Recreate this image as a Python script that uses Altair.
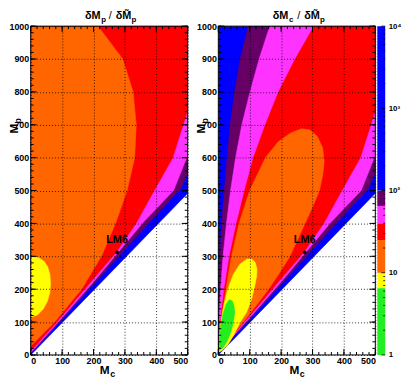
import altair as alt
import pandas as pd

# ---------------- axis ticks ----------------
MC_MAJOR = [0, 100, 200, 300, 400, 500]
MP_MAJOR = [0, 100, 200, 300, 400, 500, 600, 700, 800, 900, 1000]
MC_MINOR = list(range(0, 501, 20))
MP_MINOR = list(range(0, 1001, 20))

# ---------------- colour bar ----------------
LEVELS = [1, 6.5, 10, 25, 40, 65, 100, 10000]
GREEN, YELLOW, ORANGE, RED = "#22ee22", "#ffff00", "#ff6600", "#ff0000"
MAGENTA, PURPLE, BLUE = "#ff33ff", "#660066", "#0000ff"
BAND_COLORS = [GREEN, YELLOW, ORANGE, RED, MAGENTA, PURPLE, BLUE]
CB_LABEL_VALUES = [1, 10, 100, 1000, 10000]
CB_MINOR = [m * 10 ** k for k in range(4) for m in range(2, 10)]

# ---------------- contour boundaries (Mc, Mp) ----------------
# kinematic edge (below: white)
EDGE_MC = [0, 500]
EDGE_MP = [0, 492]
# bands hugging the diagonal (same in both panels)
BLUE_TOP_MC = [0, 100, 200, 285, 380, 477, 500]
BLUE_TOP_MP = [4, 109, 215, 305, 405, 505, 555]
PURPLE_TOP_MC = [0, 100, 200, 275, 360, 455, 500]
PURPLE_TOP_MP = [7, 113, 222, 308, 405, 500, 607]
MAGENTA_TOP_MC = [0, 90, 180, 272, 335, 393, 452, 500]
MAGENTA_TOP_MP = [12, 108, 210, 312, 400, 500, 600, 745]

# left panel: dMp / dMp~
L_ORANGE_MC = [0, 76, 162, 225, 270, 307, 331, 336, 326, 293, 214, 0]
L_ORANGE_MP = [27, 100, 200, 300, 400, 500, 600, 700, 800, 900, 1000, 1000]
L_YELLOW_MC = [0, 22, 40, 53, 61, 63, 61, 54, 42, 25, 0]
L_YELLOW_MP = [115, 122, 140, 163, 190, 218, 245, 268, 285, 296, 300]

# right panel: dMc / dMp~  (bands along the Mc = 0 edge)
R_BLUE_L_MC = [0, 1, 5, 11, 19, 28, 38, 52, 70, 96]
R_BLUE_L_MP = [170, 200, 300, 400, 500, 600, 700, 800, 900, 1000]
R_PURPLE_L_MC = [0, 2, 7, 15, 26, 39, 55, 75, 101, 130, 164]
R_PURPLE_L_MP = [60, 100, 200, 300, 400, 500, 600, 700, 800, 900, 1000]
R_MAGENTA_L_MC = [0, 7, 19, 36, 58, 84, 112, 150, 192, 245, 305]
R_MAGENTA_L_MP = [30, 100, 200, 300, 400, 500, 600, 700, 800, 900, 1000]
R_ORANGE_MC = [0, 3, 10, 24, 42, 66, 100, 150, 190, 230, 265, 292, 315, 332, 337,
               333, 322, 300, 276, 252, 228, 195, 160, 120, 80, 40, 0]
R_ORANGE_MP = [8, 50, 100, 200, 300, 400, 500, 600, 648, 675, 688, 684, 665, 630, 590,
               550, 500, 450, 400, 350, 300, 250, 200, 150, 100, 58, 8]
R_YELLOW_MC = [2, 3, 8, 17, 30, 48, 68, 90, 105, 117, 123, 122, 116, 106, 90, 70, 50, 30, 10, 2]
R_YELLOW_MP = [10, 50, 100, 150, 200, 245, 275, 291, 292, 282, 262, 240, 210, 170, 130, 100, 62, 30, 12, 10]
R_GREEN_MC = [3, 4, 8, 15, 25, 35, 44, 50, 52, 48, 40, 28, 15, 3]
R_GREEN_MP = [15, 50, 90, 125, 155, 168, 165, 150, 128, 100, 70, 42, 22, 15]

LM6_MC, LM6_MP = 275, 312

W, H = 159, 333
FONT = "Liberation Sans"

xscale = alt.Scale(domain=[0, 500], nice=False, zero=False)
yscale = alt.Scale(domain=[0, 1000], nice=False, zero=False)
common_axis = dict(grid=True, gridDash=[1, 2], gridColor="black", gridOpacity=0.8,
                   domain=False, ticks=False, tickSize=0, labelPadding=2, format="d",
                   labelFont=FONT, labelFontSize=9, labelFontWeight="bold",
                   labelColor="black", title=None, zindex=1)
xaxis = alt.Axis(values=MC_MAJOR, **common_axis)
yaxis = alt.Axis(values=MP_MAJOR, **common_axis)

ONE = pd.DataFrame({"a": [0]})


def polygon(mc, mp, col):
    df = pd.DataFrame({"mc": mc, "mp": mp, "i": list(range(len(mc)))})
    return alt.Chart(df).mark_line(filled=True, fill=col, stroke=col, strokeWidth=0.6,
                                   clip=True).encode(
        x=alt.X("mc:Q", scale=xscale, axis=xaxis),
        y=alt.Y("mp:Q", scale=yscale, axis=yaxis),
        order="i:Q")


def text(t, x, y, size, angle=0, weight="bold"):
    return alt.Chart(ONE).mark_text(text=t, align="left", baseline="alphabetic", font=FONT,
                                    fontSize=size, fontWeight=weight, angle=angle,
                                    color="black").encode(x=alt.value(x), y=alt.value(y))


def decorations():
    out = []
    for vals, ln in [(MC_MINOR, 3), (MC_MAJOR, 6)]:
        base = alt.Chart(pd.DataFrame({"v": vals})).mark_rule(color="black", strokeWidth=1)
        xx = alt.X("v:Q", scale=xscale, axis=xaxis)
        out.append(base.encode(x=xx, y=alt.value(H), y2=alt.value(H - ln)))
        out.append(base.encode(x=xx, y=alt.value(0), y2=alt.value(ln)))
    for vals, ln in [(MP_MINOR, 3), (MP_MAJOR, 6)]:
        base = alt.Chart(pd.DataFrame({"v": vals})).mark_rule(color="black", strokeWidth=1)
        yy = alt.Y("v:Q", scale=yscale, axis=yaxis)
        out.append(base.encode(y=yy, x=alt.value(0), x2=alt.value(ln)))
        out.append(base.encode(y=yy, x=alt.value(W), x2=alt.value(W - ln)))
    fr = alt.Chart(ONE).mark_rule(color="black", strokeWidth=1)
    out.append(fr.encode(x=alt.value(0), x2=alt.value(W), y=alt.value(0)))
    out.append(fr.encode(x=alt.value(0), x2=alt.value(W), y=alt.value(H)))
    out.append(fr.encode(x=alt.value(0), y=alt.value(0), y2=alt.value(H)))
    out.append(fr.encode(x=alt.value(W), y=alt.value(0), y2=alt.value(H)))
    lm = pd.DataFrame({"mc": [LM6_MC], "mp": [LM6_MP], "t": ["LM6"]})
    enc = dict(x=alt.X("mc:Q", scale=xscale, axis=xaxis), y=alt.Y("mp:Q", scale=yscale, axis=yaxis))
    out.append(alt.Chart(lm).mark_point(filled=True, color="black", size=14, opacity=1).encode(**enc))
    out.append(alt.Chart(lm).mark_text(align="center", baseline="alphabetic", dy=-9.5, font=FONT,
                                       fontSize=11, fontWeight="bold", color="black").encode(text="t:N", **enc))
    return out


def rev(a):
    return list(reversed(a))


# ---------- left panel ----------
left_layers = [
    polygon(EDGE_MC + [500, 0], EDGE_MP + [1000, 1000], BLUE),
    polygon(BLUE_TOP_MC + [500, 0], BLUE_TOP_MP + [1000, 1000], PURPLE),
    polygon(PURPLE_TOP_MC + [500, 0], PURPLE_TOP_MP + [1000, 1000], MAGENTA),
    polygon(MAGENTA_TOP_MC + [500, 0], MAGENTA_TOP_MP + [1000, 1000], RED),
    polygon(L_ORANGE_MC, L_ORANGE_MP, ORANGE),
    polygon(L_YELLOW_MC, L_YELLOW_MP, YELLOW),
] + decorations() + [
    text("δM", 55, -7, 11), text("p", 71.5, -4, 8), text("/", 79, -7, 11, weight="normal"),
    text("δM\u0303", 86, -7, 11), text("p", 102, -4, 8),
    text("M", 70, H + 19, 12), text("c", 80.5, H + 22, 9),
    text("M", -13, 108.7, 12, angle=270), text("p", -10, 98.5, 9, angle=270),
]
left = alt.layer(*left_layers).properties(width=W, height=H)

# ---------- right panel ----------
right_layers = [
    polygon(EDGE_MC + [500, 0], EDGE_MP + [1000, 1000], BLUE),
    polygon(R_BLUE_L_MC + [500] + rev(BLUE_TOP_MC), R_BLUE_L_MP + [1000] + rev(BLUE_TOP_MP), PURPLE),
    polygon(R_PURPLE_L_MC + [500] + rev(PURPLE_TOP_MC), R_PURPLE_L_MP + [1000] + rev(PURPLE_TOP_MP), MAGENTA),
    polygon(R_MAGENTA_L_MC + [500] + rev(MAGENTA_TOP_MC), R_MAGENTA_L_MP + [1000] + rev(MAGENTA_TOP_MP), RED),
    polygon(R_ORANGE_MC, R_ORANGE_MP, ORANGE),
    polygon(R_YELLOW_MC, R_YELLOW_MP, YELLOW),
    polygon(R_GREEN_MC, R_GREEN_MP, GREEN),
] + decorations() + [
    text("δM", 55, -7, 11), text("c", 71.5, -4, 8), text("/", 80, -7, 11, weight="normal"),
    text("δM\u0303", 87, -7, 11), text("p", 103, -4, 8),
    text("M", 72, H + 19, 12), text("c", 82.5, H + 22, 9),
    text("M", -13, 108.7, 12, angle=270), text("p", -10, 98.5, 9, angle=270),
]
panel_right = alt.layer(*right_layers)

# ---------- colour bar ----------
cb_df = pd.DataFrame({"lo": LEVELS[:-1], "hi": LEVELS[1:], "c": BAND_COLORS})
cb_scale = alt.Scale(type="log", domain=[1, 10000], nice=False)
cb_axis = alt.Axis(orient="right", values=CB_LABEL_VALUES, offset=10, domain=False, ticks=False,
                   tickSize=0, grid=False, title=None, labelPadding=3, labelFont=FONT,
                   labelFontSize=8, labelFontWeight="bold", labelColor="black",
                   labelExpr="datum.value == 1 ? '1' : datum.value == 10 ? '10' : "
                             "datum.value == 100 ? '10²' : datum.value == 1000 ? '10³' : '10⁴'")
cb_rect = alt.Chart(cb_df).mark_rect().encode(
    x=alt.value(W + 2), x2=alt.value(W + 10),
    y=alt.Y("lo:Q", scale=cb_scale, axis=cb_axis), y2="hi:Q",
    color=alt.Color("c:N", scale=None))
cb_minor = alt.Chart(pd.DataFrame({"v": CB_MINOR})).mark_rule(color="black", strokeWidth=0.8).encode(
    y=alt.Y("v:Q", scale=cb_scale, axis=cb_axis), x=alt.value(W + 10), x2=alt.value(W + 8))
cb_major = alt.Chart(pd.DataFrame({"v": CB_LABEL_VALUES})).mark_rule(color="black", strokeWidth=0.8).encode(
    y=alt.Y("v:Q", scale=cb_scale, axis=cb_axis), x=alt.value(W + 10), x2=alt.value(W + 6))
cbar = alt.layer(cb_rect, cb_minor, cb_major)

right = alt.layer(panel_right, cbar).resolve_scale(y="independent").properties(width=W, height=H)

chart = alt.hconcat(left, right, spacing=7).properties(
    padding={"left": 0, "top": 0, "right": 0, "bottom": 0}
).configure_view(strokeWidth=0)

chart.save("out.html", embed_options={"renderer": "svg", "actions": False})
